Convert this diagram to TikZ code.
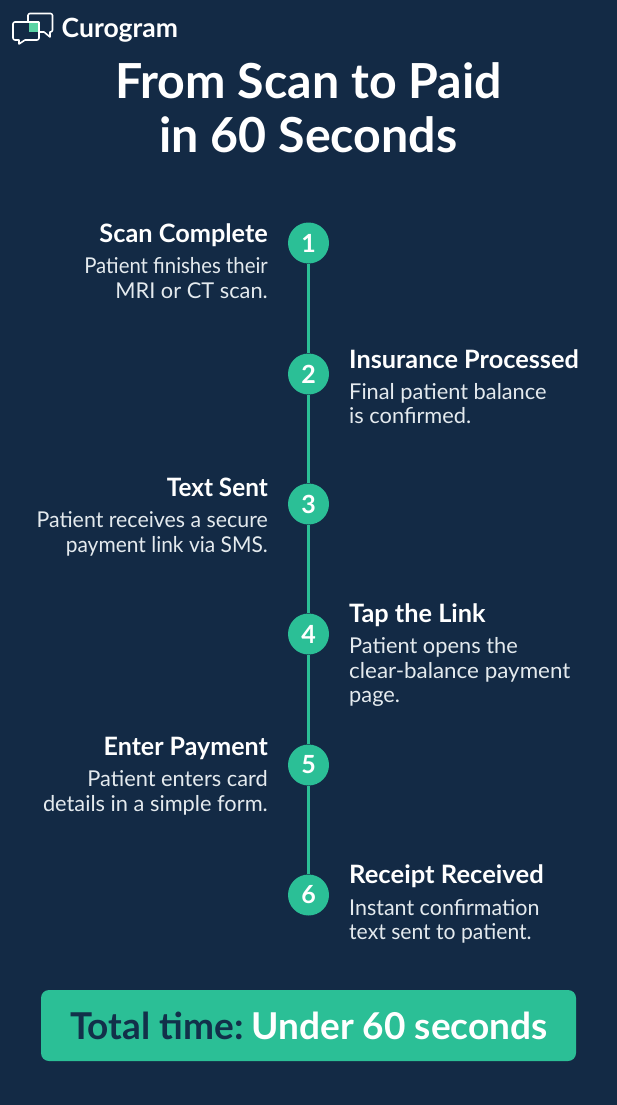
\documentclass[tikz,border=0pt]{standalone}
\usepackage{fontspec}
\setmainfont{Lato}
\definecolor{bgc}{HTML}{132A45}
\definecolor{grn}{HTML}{2BBF96}
\definecolor{lgrn}{HTML}{5AD3A4}
\definecolor{dk}{HTML}{12304A}
\definecolor{lt}{HTML}{E4EAEE}
\newcommand{\xfit}[2]{\scalebox{#1}[1]{#2}}
\tikzset{
 stepdot/.style={circle,fill=grn,minimum size=41pt,inner sep=0pt,text=white,font=\fontsize{25}{25}\selectfont\bfseries},
 headl/.style={anchor=base east,inner sep=0pt,text=white,font=\fontsize{25.3}{25}\selectfont\bfseries},
 headr/.style={anchor=base west,inner sep=0pt,text=white,font=\fontsize{25.3}{25}\selectfont\bfseries},
 bodyl/.style={anchor=base east,inner sep=0pt,text=lt,font=\fontsize{21.8}{21.8}\selectfont},
 bodyr/.style={anchor=base west,inner sep=0pt,text=lt,font=\fontsize{21.8}{21.8}\selectfont},
 titl/.style={anchor=base,inner sep=0pt,text=white,font=\fontsize{48.3}{48}\selectfont\bfseries},
 logoline/.style={draw=white,line width=1.6pt,line join=round,fill=none},
}
\begin{document}
\begin{tikzpicture}[x=1pt,y=-1pt]
\useasboundingbox (0,0) rectangle (617,1105);
\fill[bgc] (0,0) rectangle (617,1105);
% logo
\fill[lgrn] (29,22) rectangle (39,32);
\draw[logoline] (28,21) -- (28,15.5) arc[start angle=180,end angle=270,radius=2] -- (50.5,13.5) arc[start angle=-90,end angle=0,radius=2] -- (52.5,30) arc[start angle=0,end angle=90,radius=2] -- (50,32) -- (50,37) -- (44,32) -- (39,32);
\draw[logoline] (39,22) -- (39,38) arc[start angle=0,end angle=90,radius=2] -- (25,40) -- (19,44) -- (19,40) -- (15,40) arc[start angle=90,end angle=180,radius=2] -- (13,24) arc[start angle=180,end angle=270,radius=2] -- (39,22);
\node[anchor=base west,inner sep=0pt,text=white,font=\fontsize{26.5}{26}\selectfont\bfseries] (brand) at (61.5,38) {Curogram};
% title
\node[titl] (t1) at (308.5,99) {From Scan to Paid};
\node[titl] (t2) at (308.5,153) {in 60 Seconds};
% steps
\node[stepdot] (s1) at (308.5,243) {1};
\node[stepdot] (s2) at (308.5,374) {2};
\node[stepdot] (s3) at (308.5,504) {3};
\node[stepdot] (s4) at (308.5,634) {4};
\node[stepdot] (s5) at (308.5,765) {5};
\node[stepdot] (s6) at (308.5,895) {6};
\draw[grn,line width=2.6pt] (s1)--(s2) (s2)--(s3) (s3)--(s4) (s4)--(s5) (s5)--(s6);
% left texts
\node[headl] (h1) at (268,242) {Scan Complete};
\node[bodyl] (b1a) at (268,273) {\xfit{.934}{Patient finishes their}};
\node[bodyl] (b1b) at (268,298) {MRI or CT scan.};
\node[headl] (h3) at (268,496) {\xfit{.96}{Text Sent}};
\node[bodyl] (b3a) at (268,527) {\xfit{.979}{Patient receives a secure}};
\node[bodyl] (b3b) at (268,552) {\xfit{.962}{payment link via SMS.}};
\node[headl] (h5) at (268,755) {\xfit{.988}{Enter Payment}};
\node[bodyl] (b5a) at (268,786) {Patient enters card};
\node[bodyl] (b5b) at (268,811) {details in a simple form.};
% right texts
\node[headr] (h2) at (349,368) {Insurance Processed};
\node[bodyr] (b2a) at (349,399) {Final patient balance};
\node[bodyr] (b2b) at (349,423) {is confirmed.};
\node[headr] (h4) at (349,622) {Tap the Link};
\node[bodyr] (b4a) at (349,653) {Patient opens the};
\node[bodyr] (b4b) at (349,678) {\xfit{1.027}{clear-balance payment}};
\node[bodyr] (b4c) at (349,702) {page.};
\node[headr] (h6) at (349,883) {\xfit{1.012}{Receipt Received}};
\node[bodyr] (b6a) at (349,915) {\xfit{.985}{Instant confirmation}};
\node[bodyr] (b6b) at (349,939) {\xfit{.969}{text sent to patient.}};
% total
\fill[grn,rounded corners=8pt] (41,990) rectangle (576,1061);
\node[anchor=base west,inner sep=0pt,font=\fontsize{37}{37}\selectfont\bfseries] (tot) at (70,1039) {\textcolor{dk}{Total time:}\hspace{8pt}\textcolor{white}{Under 60 seconds}};
\end{tikzpicture}
\end{document}
